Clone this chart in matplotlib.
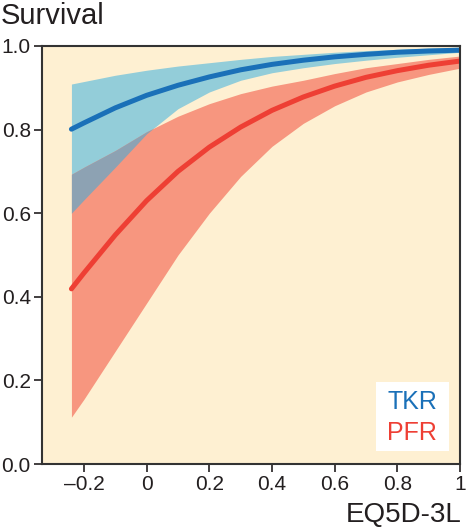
import matplotlib.pyplot as plt
import numpy as np
from matplotlib.patches import Rectangle

plt.rcParams['font.family'] = ['Liberation Sans', 'DejaVu Sans']

# EQ5D-3L score grid
eq5d = np.array([-0.24, -0.2, -0.1, 0.0, 0.1, 0.2, 0.3, 0.4, 0.5, 0.6, 0.7, 0.8, 0.9, 1.0])

# TKR survival with confidence band
tkr = np.array([0.801, 0.816, 0.852, 0.882, 0.906, 0.926, 0.943, 0.956, 0.966, 0.974, 0.980, 0.985, 0.988, 0.990])
tkr_hi = np.array([0.909, 0.915, 0.930, 0.942, 0.952, 0.960, 0.968, 0.975, 0.980, 0.985, 0.989, 0.992, 0.995, 0.997])
tkr_lo = np.array([0.600, 0.632, 0.710, 0.790, 0.850, 0.890, 0.918, 0.936, 0.948, 0.958, 0.966, 0.973, 0.979, 0.985])

# PFR survival with confidence band
pfr = np.array([0.419, 0.457, 0.548, 0.630, 0.700, 0.758, 0.806, 0.846, 0.878, 0.904, 0.925, 0.941, 0.954, 0.964])
pfr_hi = np.array([0.693, 0.710, 0.750, 0.795, 0.832, 0.862, 0.886, 0.904, 0.918, 0.934, 0.948, 0.958, 0.968, 0.976])
pfr_lo = np.array([0.112, 0.155, 0.270, 0.385, 0.500, 0.600, 0.688, 0.760, 0.815, 0.857, 0.890, 0.914, 0.932, 0.947])

xticks = [-0.2, 0, 0.2, 0.4, 0.6, 0.8, 1]
xlabels = ['\u20130.2', '0', '0.2', '0.4', '0.6', '0.8', '1']
yticks = [0.0, 0.2, 0.4, 0.6, 0.8, 1.0]

cream = '#FEF0D2'
blue_band = '#93CDD9'
red_band = '#F7967F'
overlap = '#8DA2B3'
blue_line = '#1A70B8'
red_line = '#EE3F34'
ink = '#231F20'

fig = plt.figure(figsize=(4.68, 5.28), dpi=100)
ax = fig.add_axes([0.0897, 0.1212, 0.8932, 0.7917])
ax.set_facecolor(cream)

ax.fill_between(eq5d, tkr_lo, tkr_hi, color=blue_band, lw=0)
ax.fill_between(eq5d, pfr_lo, pfr_hi, color=red_band, lw=0)
# overlap of the two bands
ov_lo = np.maximum(tkr_lo, pfr_lo)
ov_hi = np.minimum(tkr_hi, pfr_hi)
ax.fill_between(eq5d, ov_lo, ov_hi, where=ov_hi > ov_lo, interpolate=True, color=overlap, lw=0)

ax.plot(eq5d, tkr, color=blue_line, lw=3.6, solid_capstyle='round')
ax.plot(eq5d, pfr, color=red_line, lw=3.6, solid_capstyle='round')

ax.set_xlim(-0.334, 1)
ax.set_ylim(0, 1)
ax.set_xticks(xticks)
ax.set_xticklabels(xlabels)
ax.set_yticks(yticks)
ax.set_yticklabels(['%.1f' % v for v in yticks])
ax.tick_params(direction='out', length=6, width=1.2, labelsize=15, color=ink,
               labelcolor=ink, pad=2)
for s in ax.spines.values():
    s.set_linewidth(1.5)
    s.set_color('#333333')

# legend box
ax.add_patch(Rectangle((0.799, 0.031), 0.175, 0.165, transform=ax.transAxes,
                       facecolor='white', edgecolor='none', zorder=5))
ax.text(0.886, 0.148, 'TKR', color=blue_line, fontsize=18, ha='center', va='center',
        transform=ax.transAxes, zorder=6)
ax.text(0.886, 0.074, 'PFR', color=red_line, fontsize=18, ha='center', va='center',
        transform=ax.transAxes, zorder=6)

fig.text(0.002, 0.955, 'Survival', fontsize=21, ha='left', va='baseline', color=ink)
fig.text(0.986, 0.012, 'EQ5D-3L', fontsize=20, ha='right', va='baseline', color=ink)

fig.savefig('out.png', dpi=100)
